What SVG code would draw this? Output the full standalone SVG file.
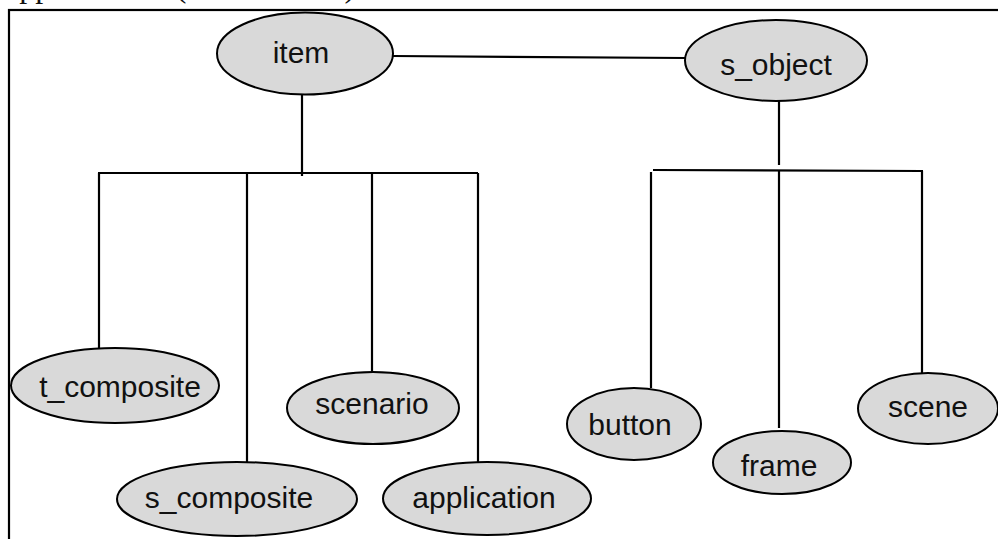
<svg xmlns="http://www.w3.org/2000/svg" width="998" height="539" viewBox="0 0 998 539">
  <style>
    .node ellipse { fill: #d9d9d9; stroke: #000; stroke-width: 2; }
    .node text { font-family: "Liberation Sans", Arial, sans-serif; font-size: 30px; fill: #111; text-anchor: middle; }
    .links line { stroke: #000; stroke-width: 2.2; stroke-linecap: butt; }
    .caption { font-family: "Liberation Serif", "Times New Roman", serif; font-size: 32px; fill: #111; }
  </style>
  <rect width="998" height="539" fill="#fff"/>

  <!-- running text line above the figure, cut by the top edge -->
  <text class="caption" x="5" y="-3" word-spacing="8">applications (for instance) include</text>

  <!-- figure frame -->
  <rect x="9" y="10" width="1000" height="540" fill="none" stroke="#000" stroke-width="2.2"/>

  <g class="links">
    <!-- item to s_object -->
    <line x1="393" y1="56" x2="686" y2="58"/>
    <!-- item subtree -->
    <line x1="302" y1="94" x2="302" y2="176"/>
    <line x1="98" y1="173" x2="478" y2="173"/>
    <line x1="99" y1="173" x2="99" y2="349"/>
    <line x1="247" y1="174" x2="247" y2="463"/>
    <line x1="372" y1="174" x2="372" y2="373"/>
    <line x1="478" y1="173" x2="478" y2="463"/>
    <!-- s_object subtree -->
    <line x1="779" y1="101" x2="779" y2="165"/>
    <line x1="653" y1="170" x2="923" y2="171"/>
    <line x1="651" y1="172" x2="651" y2="388"/>
    <line x1="779" y1="171" x2="779" y2="428"/>
    <line x1="922" y1="171" x2="922" y2="374"/>
  </g>

  <g id="item" class="node">
    <ellipse cx="305" cy="53.5" rx="88" ry="41"/>
    <text x="301" y="63">item</text>
  </g>
  <g id="s_object" class="node">
    <ellipse cx="776" cy="60.5" rx="91" ry="40.5"/>
    <text x="776" y="75">s_object</text>
  </g>
  <g id="t_composite" class="node">
    <ellipse cx="115" cy="385.5" rx="104" ry="37.5"/>
    <text x="120" y="397">t_composite</text>
  </g>
  <g id="s_composite" class="node">
    <ellipse cx="237" cy="499" rx="120" ry="37"/>
    <text x="229" y="508">s_composite</text>
  </g>
  <g id="scenario" class="node">
    <ellipse cx="373" cy="408" rx="86" ry="36"/>
    <text x="372" y="414">scenario</text>
  </g>
  <g id="application" class="node">
    <ellipse cx="487" cy="498.5" rx="104" ry="36.5"/>
    <text x="484" y="508">application</text>
  </g>
  <g id="button" class="node">
    <ellipse cx="634" cy="424" rx="67" ry="36"/>
    <text x="630" y="435">button</text>
  </g>
  <g id="frame" class="node">
    <ellipse cx="782" cy="462.5" rx="69" ry="31.5"/>
    <text x="779" y="476">frame</text>
  </g>
  <g id="scene" class="node">
    <ellipse cx="928" cy="408.5" rx="70" ry="35.5"/>
    <text x="928" y="417">scene</text>
  </g>
</svg>
